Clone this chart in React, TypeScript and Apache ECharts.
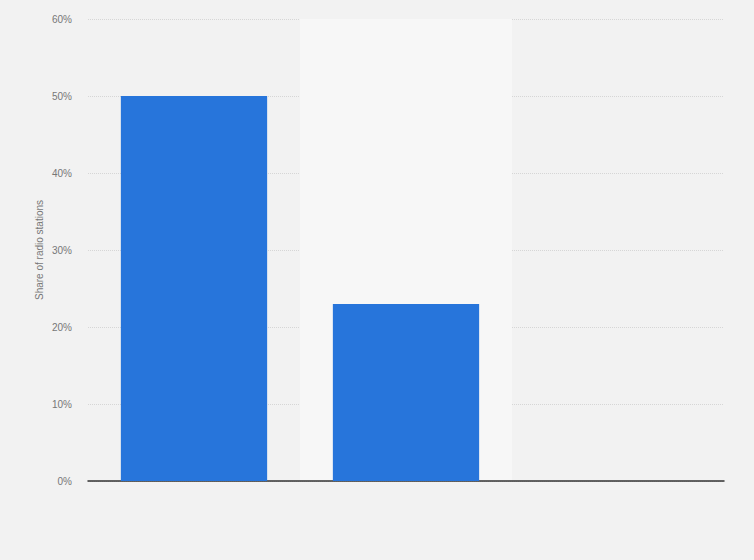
import { useEffect, useRef } from 'react';
import * as echarts from 'echarts';

// category names are not shown in the source chart
const categories = ['', ' ', '  '];
const shares: (number | null)[] = [50, 23, null];
const yTicks = { min: 0, max: 60, interval: 10 };

export default function App() {
  const ref = useRef<HTMLDivElement>(null);

  useEffect(() => {
    if (!ref.current) return;
    const chart = echarts.init(ref.current, undefined, { renderer: 'svg' });
    chart.setOption({
      animation: false,
      backgroundColor: '#f2f2f2',
      textStyle: { fontFamily: 'Arial, "Liberation Sans", sans-serif' },
      grid: { left: 88, right: 30, top: 19, bottom: 79 },
      xAxis: {
        type: 'category',
        data: categories,
        axisLine: { lineStyle: { color: '#333', width: 1.5 } },
        axisTick: { show: false },
        axisLabel: { show: false },
        splitArea: {
          show: true,
          areaStyle: { color: ['rgba(0,0,0,0)', '#f7f7f7'] },
        },
      },
      yAxis: {
        type: 'value',
        min: yTicks.min,
        max: yTicks.max,
        interval: yTicks.interval,
        name: 'Share of radio stations',
        nameLocation: 'middle',
        nameGap: 44,
        nameMoveOverlap: false,
        nameTextStyle: { color: '#777', fontSize: 10 },
        axisLabel: { color: '#777', fontSize: 10, margin: 16, formatter: '{value}%' },
        axisLine: { show: false },
        axisTick: { show: false },
        splitLine: { lineStyle: { color: '#d6d6d6', type: 'dotted' } },
      },
      series: [
        {
          type: 'bar',
          data: shares,
          barWidth: '69%',
          itemStyle: { color: '#2775db' },
        },
      ],
    });
    return () => chart.dispose();
  }, []);

  return (
    <div
      ref={ref}
      style={{ position: 'fixed', left: 0, top: 0, width: 754, height: 560 }}
    />
  );
}
